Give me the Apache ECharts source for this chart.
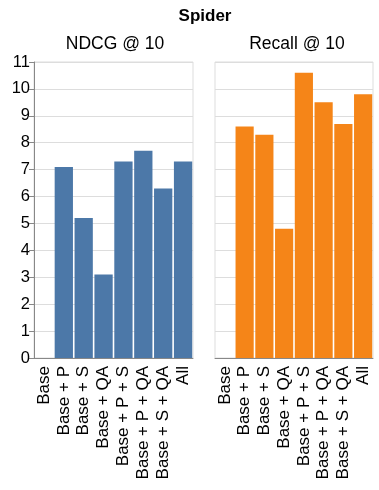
<!DOCTYPE html>
<html>
	<head>
		<meta charset="utf-8">
		<title>Spider</title>
		<script src="https://cdn.jsdelivr.net/npm/echarts@6/dist/echarts.min.js"></script>
		<style>
			body{margin:0;background:#fff;}
			.chart{width:379px;height:490px;}
		</style>
	</head>
	<body>
		<div class="chart"></div>
		<script>
			// data
			var categories = ['Base', 'Base + P', 'Base + S', 'Base + QA', 'Base + P + S', 'Base + P + QA', 'Base + S + QA', 'All'];
			var ndcg = [0, 7.1, 5.2, 3.1, 7.3, 7.7, 6.3, 7.3];
			var recall = [0, 8.6, 8.3, 4.8, 10.6, 9.5, 8.7, 9.8];
			var yTicks = [0, 11, 1]; // min, max, step

			var font = 'Liberation Sans, Arial, sans-serif';
			var chart = echarts.init(document.querySelector('.chart'));

			function xAxis(idx){
				return {
					type:'category',
					gridIndex:idx,
					data:categories,
					axisLine:{lineStyle:{color:'#888',width:1}},
					axisTick:{alignWithLabel:true,length:5,lineStyle:{color:'#888'}},
					axisLabel:{rotate:90,color:'#000',fontSize:17,fontFamily:font,margin:8,interval:0}
				};
			}
			function yAxis(idx, showLabels){
				return {
					type:'value',
					gridIndex:idx,
					min:yTicks[0],
					max:yTicks[1],
					interval:yTicks[2],
					axisLine:{show:showLabels,lineStyle:{color:'#888'}},
					axisTick:{show:showLabels,length:5,lineStyle:{color:'#888'}},
					axisLabel:{show:showLabels,color:'#000',fontSize:16.5,fontFamily:font,margin:4},
					splitLine:{lineStyle:{color:'#ddd'}}
				};
			}

			chart.setOption({
				animation:false,
				title:[
					{text:'Spider',left:200,top:3,textAlign:'center',textStyle:{fontSize:17,fontWeight:'bold',color:'#000',fontFamily:font}},
					{text:'NDCG @ 10',left:110,top:30,textAlign:'center',textStyle:{fontSize:17.5,fontWeight:'normal',color:'#000',fontFamily:font}},
					{text:'Recall @ 10',left:292,top:30,textAlign:'center',textStyle:{fontSize:17.5,fontWeight:'normal',color:'#000',fontFamily:font}}
				],
				grid:[
					{left:34,right:186,top:62,bottom:132,show:true,borderColor:'#ddd',borderWidth:1},
					{left:215,right:6,top:62,bottom:132,show:true,borderColor:'#ddd',borderWidth:1}
				],
				xAxis:[xAxis(0), xAxis(1)],
				yAxis:[yAxis(0,true), yAxis(1,false)],
				series:[
					{type:'bar',xAxisIndex:0,yAxisIndex:0,data:ndcg,barCategoryGap:'8%',itemStyle:{color:'#4c78a8'}},
					{type:'bar',xAxisIndex:1,yAxisIndex:1,data:recall,barCategoryGap:'8%',itemStyle:{color:'#f58518'}}
				]
			});
		</script>
	</body>
</html>
